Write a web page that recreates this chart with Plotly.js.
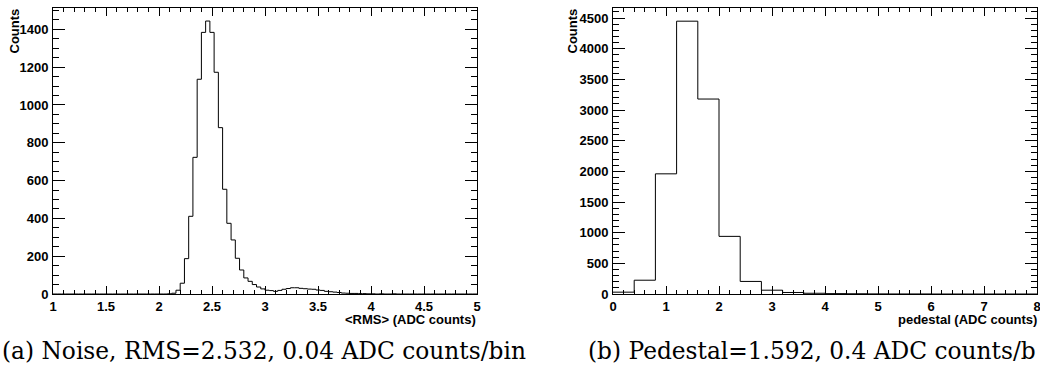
<!DOCTYPE html>
<html><head><meta charset="utf-8">
<script src="https://cdn.plot.ly/plotly-3.0.1.min.js"></script>
<style>html,body{margin:0;padding:0;background:#fff;overflow:hidden}</style>
</head><body>
<div id="chart" style="width:1040px;height:377px"></div>
<script>
// ---- Data ----
const noiseBinStart = 1.0;
const noiseBinWidth = 0.04;
const noiseCounts = [
  0,0,0,0,0,0,0,0,0,0,
  0,0,0,0,0,0,0,0,0,0,
  0,0,0,0,0,0,0,1,4,20,
  57,187,411,723,1136,1384,1444,1384,1173,880,
  554,374,286,189,127,85,67,50,37,27,
  20,18,14,19,25,29,33,33,30,28,
  26,25,21,19,14,12,10,8,5,4,
  3,3,2,2,1,1,0,1,0,0,
  1,0,0,0,0,0,0,0,0,0,
  0,0,0,0,0,0,0,0,0,0
];
const pedBinStart = 0.0;
const pedBinWidth = 0.4;
const pedCounts = [30,225,1960,4450,3180,940,205,62,25,12,6,4,2,1,1,0,0,0,0,0];

const noiseTickVals = [1,1.5,2,2.5,3,3.5,4,4.5,5];
const noiseTickText = ["1","1.5","2","2.5","3","3.5","4","4.5","5"];
const pedTickVals = [0,1,2,3,4,5,6,7,8];
const pedTickText = ["0","1","2","3","4","5","6","7","8"];
const noiseYTicks = [0,200,400,600,800,1000,1200,1400];
const pedYTicks = [0,500,1000,1500,2000,2500,3000,3500,4000,4500];

const noiseXTitle = "&lt;RMS&gt; (ADC counts)";
const pedXTitle = "pedestal (ADC counts)";
const yTitle = "Counts";
const captionA = "(a) Noise, RMS=2.532, 0.04 ADC counts/bin";
const captionB = "(b) Pedestal=1.592, 0.4 ADC counts/b";

// ---- step outline helper ----
function stepTrace(start, width, counts, xa, ya) {
  const xs = [], ys = [];
  for (let i = 0; i < counts.length; i++) { xs.push(start + i * width); ys.push(counts[i]); }
  xs.push(start + counts.length * width); ys.push(counts[counts.length - 1]);
  return {x: xs, y: ys, type: 'scatter', mode: 'lines', line: {shape: 'hv', color: '#000', width: 1},
          xaxis: xa, yaxis: ya, hoverinfo: 'skip', showlegend: false};
}

const W = 1040, H = 377;
const px = v => v / W, py = v => (H - v) / H;
const tickFont = {family: 'Liberation Sans', size: 13, color: '#000'};
const bold = arr => arr.map(s => '<b>' + s + '</b>');

function xAxis(domain, range, tickvals, ticktext, minorDt) {
  return {domain: domain, range: range, tickmode: 'array', tickvals: tickvals, ticktext: bold(ticktext),
    ticks: 'inside', ticklen: 8, tickwidth: 1, tickcolor: '#000', showline: true, linecolor: '#000', linewidth: 1,
    mirror: 'ticks', showgrid: false, zeroline: false, tickfont: tickFont, ticklabelstandoff: 0,
    ticklabeloverflow: 'allow',
    minor: {ticks: 'inside', ticklen: 4, dtick: minorDt, tick0: range[0], tickcolor: '#000', tickwidth: 1, showgrid: false}};
}
function yAxis(domain, range, tickvals, minorDt, anchor) {
  return {domain: domain, range: range, tickmode: 'array', tickvals: tickvals, ticktext: bold(tickvals.map(String)), anchor: anchor,
    ticks: 'inside', ticklen: 12, tickwidth: 1, tickcolor: '#000', showline: true, linecolor: '#000', linewidth: 1,
    mirror: 'ticks', showgrid: false, zeroline: false, tickfont: tickFont, ticklabelstandoff: 1,
    ticklabeloverflow: 'allow',
    minor: {ticks: 'inside', ticklen: 6, dtick: minorDt, tick0: 0, tickcolor: '#000', tickwidth: 1, showgrid: false}};
}

const yDom = [py(294), py(8)];
const data = [
  stepTrace(noiseBinStart, noiseBinWidth, noiseCounts, 'x', 'y'),
  stepTrace(pedBinStart, pedBinWidth, pedCounts, 'x2', 'y2')
];

const titleFont = {family: 'Liberation Sans', size: 13, color: '#000'};
const capFont = {family: 'DejaVu Serif', size: 23.3, color: '#000'};

const layout = {
  width: W, height: H, margin: {l: 0, r: 0, t: 0, b: 0},
  paper_bgcolor: '#fff', plot_bgcolor: '#fff', showlegend: false,
  xaxis: xAxis([px(53), px(477)], [1, 5], noiseTickVals, noiseTickText, 0.1),
  yaxis: yAxis(yDom, [0, 1513], noiseYTicks, 50, 'x'),
  xaxis2: Object.assign(xAxis([px(613), px(1037)], [0, 8], pedTickVals, pedTickText, 0.2), {anchor: 'y2'}),
  yaxis2: yAxis(yDom, [0, 4665], pedYTicks, 100, 'x2'),
  annotations: [
    {text: '<b>' + yTitle + '</b>', xref: 'paper', yref: 'paper', x: px(14), y: py(7), xanchor: 'center', yanchor: 'top', textangle: -90, showarrow: false, font: titleFont},
    {text: '<b>' + yTitle + '</b>', xref: 'paper', yref: 'paper', x: px(572), y: py(7), xanchor: 'center', yanchor: 'top', textangle: -90, showarrow: false, font: titleFont},
    {text: '<b>' + noiseXTitle + '</b>', xref: 'paper', yref: 'paper', x: px(478), y: py(319), xanchor: 'right', yanchor: 'middle', showarrow: false, font: titleFont},
    {text: '<b>' + pedXTitle + '</b>', xref: 'paper', yref: 'paper', x: px(1039), y: py(319), xanchor: 'right', yanchor: 'middle', showarrow: false, font: titleFont},
    {text: captionA, xref: 'paper', yref: 'paper', x: px(0), y: py(350), xanchor: 'left', yanchor: 'middle', showarrow: false, font: capFont},
    {text: captionB, xref: 'paper', yref: 'paper', x: px(586), y: py(350), xanchor: 'left', yanchor: 'middle', showarrow: false, font: capFont}
  ]
};

Plotly.newPlot('chart', data, layout, {displayModeBar: false, staticPlot: true});
</script>
</body></html>
